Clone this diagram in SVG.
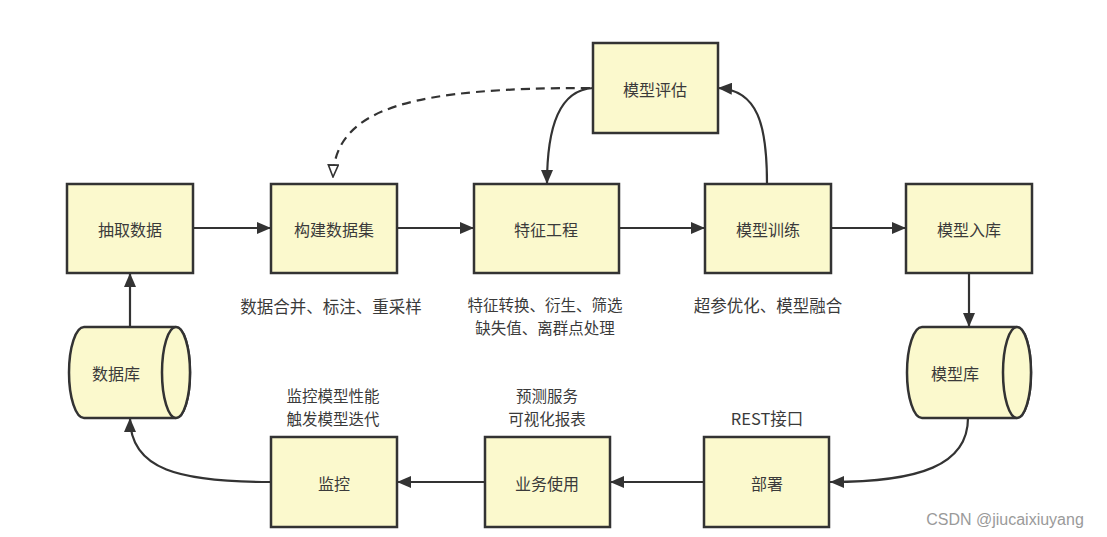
<svg xmlns="http://www.w3.org/2000/svg" width="1107" height="537" viewBox="0 0 1107 537">
<defs>
<style>
.box{fill:#FBF9CD;stroke:#333;stroke-width:2.5}
.lbl{font-family:"Noto Sans CJK SC","Noto Sans",sans-serif;font-size:16px;fill:#3a3a3a;text-anchor:middle;dominant-baseline:central}
.note{font-family:"Noto Sans CJK SC","Noto Sans",sans-serif;font-size:16.5px;fill:#3a3a3a;text-anchor:middle;dominant-baseline:central}
.note2{font-family:"Noto Sans CJK SC","Noto Sans",sans-serif;font-size:15.5px;fill:#3a3a3a;text-anchor:middle;dominant-baseline:central}
.ln{fill:none;stroke:#333;stroke-width:2.2}
.dash{fill:none;stroke:#333;stroke-width:2.2;stroke-dasharray:9 6}
</style>
<marker id="ah" viewBox="0 0 14 12" refX="14" refY="6" markerWidth="14" markerHeight="12" markerUnits="userSpaceOnUse" orient="auto">
<path d="M0,0 L14,6 L0,12 Z" fill="#333"/>
</marker>
<marker id="oh" viewBox="0 0 14 12" refX="13" refY="6" markerWidth="14" markerHeight="12" markerUnits="userSpaceOnUse" orient="auto">
<path d="M1,1 L13,6 L1,11 Z" fill="#fff" stroke="#333" stroke-width="1.6"/>
</marker>
</defs>
<rect width="1107" height="537" fill="#fff"/>

<g id="connectors">
<line class="ln" x1="193" y1="228" x2="271" y2="228" marker-end="url(#ah)"/>
<line class="ln" x1="397" y1="228" x2="474" y2="228" marker-end="url(#ah)"/>
<line class="ln" x1="619" y1="228" x2="705" y2="228" marker-end="url(#ah)"/>
<line class="ln" x1="831" y1="228" x2="906" y2="228" marker-end="url(#ah)"/>
<line class="ln" x1="969" y1="273" x2="969" y2="327" marker-end="url(#ah)"/>
<path class="ln" d="M968 418 C968 465 920 482 830 482" marker-end="url(#ah)"/>
<line class="ln" x1="704" y1="482" x2="610" y2="482" marker-end="url(#ah)"/>
<line class="ln" x1="484" y1="482" x2="397" y2="482" marker-end="url(#ah)"/>
<path class="ln" d="M271 482 C180 482 130 470 130 418" marker-end="url(#ah)"/>
<line class="ln" x1="130" y1="327" x2="130" y2="273" marker-end="url(#ah)"/>
<path class="ln" d="M767 184 C767 125 758 90 718 88" marker-end="url(#ah)"/>
<path class="ln" d="M593 88 C560 90 547 125 547 184" marker-end="url(#ah)"/>
<path class="dash" d="M590 88 C420 88 335 105 333 177" marker-end="url(#oh)"/>
</g>

<g id="n-extract"><rect class="box" x="67" y="184" width="126" height="89"/><text class="lbl" x="130" y="229">抽取数据</text></g>
<g id="n-build"><rect class="box" x="271" y="184" width="126" height="89"/><text class="lbl" x="334" y="229">构建数据集</text></g>
<g id="n-feature"><rect class="box" x="474" y="184" width="145" height="89"/><text class="lbl" x="546" y="229">特征工程</text></g>
<g id="n-train"><rect class="box" x="705" y="184" width="126" height="89"/><text class="lbl" x="768" y="229">模型训练</text></g>
<g id="n-store"><rect class="box" x="906" y="184" width="126" height="89"/><text class="lbl" x="969" y="229">模型入库</text></g>
<g id="n-eval"><rect class="box" x="593" y="43" width="125" height="90"/><text class="lbl" x="655" y="89">模型评估</text></g>
<g id="n-deploy"><rect class="box" x="704" y="437" width="125" height="90"/><text class="lbl" x="767" y="483">部署</text></g>
<g id="n-use"><rect class="box" x="485" y="437" width="125" height="90"/><text class="lbl" x="547" y="483">业务使用</text></g>
<g id="n-monitor"><rect class="box" x="271" y="437" width="126" height="90"/><text class="lbl" x="334" y="483">监控</text></g>

<g id="n-db">
<path class="box" d="M84 327 L176 327 A14 45.5 0 0 1 176 418 L84 418 A15 45.5 0 0 1 84 327 Z"/>
<ellipse class="box" cx="176" cy="372.5" rx="14" ry="45.5"/>
<text class="lbl" x="116" y="373">数据库</text>
</g>
<g id="n-modeldb">
<path class="box" d="M922 327 L1017 327 A14 45.5 0 0 1 1017 418 L922 418 A15 45.5 0 0 1 922 327 Z"/>
<ellipse class="box" cx="1017" cy="372.5" rx="14" ry="45.5"/>
<text class="lbl" x="955" y="373">模型库</text>
</g>

<g id="notes">
<text class="note" x="331" y="306">数据合并、标注、重采样</text>
<text class="note2" x="545" y="304">特征转换、衍生、筛选</text>
<text class="note2" x="545" y="327">缺失值、离群点处理</text>
<text class="note" x="768" y="305">超参优化、模型融合</text>
<text class="note2" x="333" y="395">监控模型性能</text>
<text class="note2" x="333" y="418">触发模型迭代</text>
<text class="note2" x="547" y="395">预测服务</text>
<text class="note2" x="547" y="418">可视化报表</text>
<text class="note" x="767" y="418">REST接口</text>
<text x="1005" y="519" style="font-family:'Liberation Sans',sans-serif;font-size:16px;fill:#9a9a9a;text-anchor:middle;dominant-baseline:central">CSDN @jiucaixiuyang</text>
</g>
</svg>
